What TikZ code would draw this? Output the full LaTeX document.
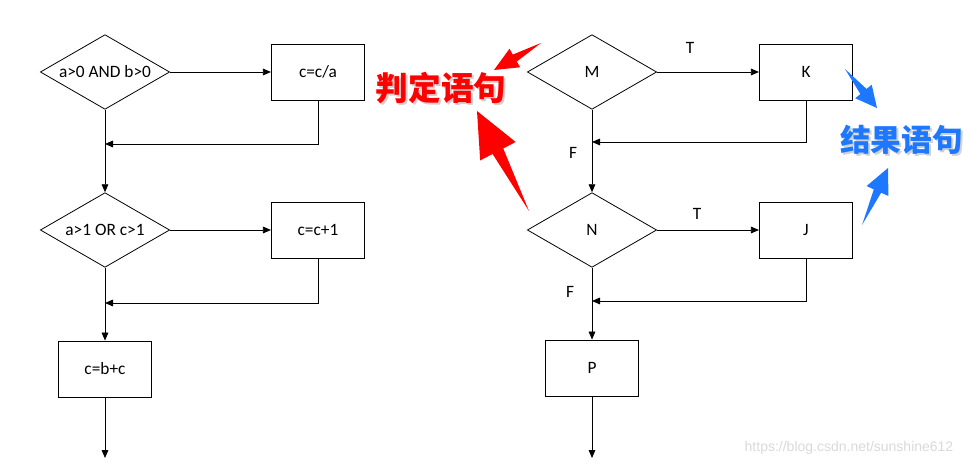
\documentclass[tikz,border=0pt]{standalone}
\usepackage{fontspec}
\setmainfont{Carlito}
\newfontfamily\cjk{Noto Sans CJK SC}
\newfontfamily\urlfont{Liberation Sans}
\usetikzlibrary{shapes.geometric,arrows.meta,calc}
\tikzset{
  cond/.style={draw, diamond, aspect=1.8, inner sep=0pt, minimum width=97pt, minimum height=56pt, line width=0.6pt, font=\fontsize{13}{15}\selectfont},
  stmt/.style={draw, rectangle, minimum width=70pt, minimum height=42pt, line width=0.6pt, font=\fontsize{13}{15}\selectfont},
  flow/.style={line width=0.6pt, -{Triangle[length=6pt,width=5pt]}},
  tf/.style={font=\fontsize{13}{15}\selectfont},
  tag/.style={font=\cjk\bfseries\fontsize{24.5}{25}\selectfont, inner sep=0pt}
}
% tail, tip, head length, head half width, shaft half width, colour
\newcommand{\fatarrow}[6]{
  \fill[#6] (#2) -- ($(#2)!#3!(#1)!#4!90:(#1)$) -- ($(#2)!#3!(#1)!#5!90:(#1)$) -- (#1)
    -- ($(#2)!#3!(#1)!#5!-90:(#1)$) -- ($(#2)!#3!(#1)!#4!-90:(#1)$) -- cycle;
}
\definecolor{tagred}{RGB}{255,0,0}
\definecolor{tagblue}{RGB}{30,120,255}
\begin{document}
\begin{tikzpicture}[x=0.75pt,y=0.75pt,yscale=-1,xscale=1]
\useasboundingbox (0,0) rectangle (970,466);

% left flow
\draw (105,72) node [cond] (d1) {a>0 AND b>0};
\draw (318,72) node [stmt] (b1) {c=c/a};
\draw (105,230) node [cond] (d2) {a>1 OR c>1};
\draw (318,230) node [stmt] (b2) {c=c+1};
\draw (105,369) node [stmt] (b3) {c=b+c};
\coordinate (m1) at (105,144);
\coordinate (m2) at (105,303);
\coordinate (e1) at (105,458);

\draw [flow] (d1.east) -- (b1.west);
\draw [flow] (b1.south) |- (m1);
\draw [flow] (d1.south) -- (d2.north);
\draw [flow] (d2.east) -- (b2.west);
\draw [flow] (b2.south) |- (m2);
\draw [flow] (d2.south) -- (b3.north);
\draw [flow] (b3.south) -- (e1);

% right flow
\draw (592,72) node [cond] (dm) {M};
\draw (806,72) node [stmt] (bk) {K};
\draw (592,230) node [cond] (dn) {N};
\draw (806,230) node [stmt] (bj) {J};
\draw (592,368) node [stmt] (bp) {P};
\coordinate (m3) at (592,142);
\coordinate (m4) at (592,301);
\coordinate (e2) at (592,458);

\draw [flow] (dm.east) -- (bk.west);
\draw [flow] (bk.south) |- (m3);
\draw [flow] (dm.south) -- (dn.north);
\draw [flow] (dn.east) -- (bj.west);
\draw [flow] (bj.south) |- (m4);
\draw [flow] (dn.south) -- (bp.north);
\draw [flow] (bp.south) -- (e2);

\draw (690,48) node [tf] (t1) {T};
\draw (697,214) node [tf] (t2) {T};
\draw (573,153) node [tf] (f1) {F};
\draw (570,292) node [tf] (f2) {F};

% tags
\draw (443,90) node [tag, black!18] {判定语句};
\draw (441,88) node [tag, tagred] (judge) {判定语句};
\draw (842,142) node [tag, black!18, anchor=west, font=\cjk\bfseries\fontsize{23}{24}\selectfont] {结果语句};
\draw (840,140) node [tag, tagblue, anchor=west, font=\cjk\bfseries\fontsize{23}{24}\selectfont] (result) {结果语句};

\coordinate (r1s) at (541,43);
\coordinate (r1e) at (494,70);
\coordinate (r2s) at (529,211);
\coordinate (r2e) at (477,111);
\coordinate (u1s) at (845,69);
\coordinate (u1e) at (877,108);
\coordinate (u2s) at (862,225);
\coordinate (u2e) at (888,168);
\fatarrow{r1s}{r1e}{18pt}{8pt}{3pt}{tagred}
\fatarrow{r2s}{r2e}{34pt}{15pt}{4.5pt}{tagred}
\fatarrow{u1s}{u1e}{16pt}{8pt}{3pt}{tagblue}
\fatarrow{u2s}{u2e}{19pt}{9pt}{3pt}{tagblue}

\draw (958,448) node [anchor=east, text=black!15, font=\urlfont\fontsize{10.5}{12}\selectfont] (mark) {https://blog.csdn.net/sunshine612};

\end{tikzpicture}
\end{document}
